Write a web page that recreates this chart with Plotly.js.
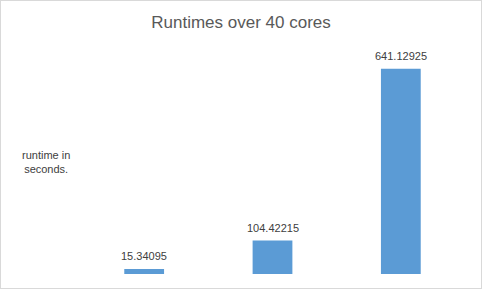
<!DOCTYPE html>
<html>
<head>
<meta charset="utf-8">
<script src="https://cdn.plot.ly/plotly-3.0.1.min.js"></script>
<style>
  html, body { margin: 0; padding: 0; background: #fff; }
  #wrap { width: 482px; height: 289px; box-sizing: border-box; border: 1px solid #d9d9d9; }
  #chart { width: 480px; height: 287px; }
</style>
</head>
<body>
<div id="wrap"><div id="chart"></div></div>
<script>
const categories = ["Run 1", "Run 2", "Run 3"];
const runtimes = [15.34095, 104.42215, 641.12925];
const chartTitle = "Runtimes over 40 cores";
const yLabel = "runtime in<br>seconds.";

const FONT = "Liberation Sans, Arial, sans-serif";

const trace = {
  type: "bar",
  x: categories,
  y: runtimes,
  width: 0.31,
  marker: { color: "#5b9bd5" },
  cliponaxis: false,
  hoverinfo: "none"
};

const valueLabels = categories.map((c, i) => ({
  text: String(runtimes[i]),
  x: c, y: runtimes[i],
  xref: "x", yref: "y",
  xanchor: "center", yanchor: "bottom",
  yshift: 5,
  showarrow: false,
  font: { family: FONT, size: 11, color: "#404040" }
}));

const layout = {
  width: 480,
  height: 287,
  margin: { l: 79, r: 16, t: 49, b: 14 },
  paper_bgcolor: "#ffffff",
  plot_bgcolor: "#ffffff",
  showlegend: false,
  title: {
    text: chartTitle,
    font: { family: FONT, size: 17, color: "#595959" },
    x: 0.5, xanchor: "center",
    y: 1 - 21 / 287, yref: "container", yanchor: "middle"
  },
  xaxis: {
    type: "category",
    categoryarray: categories, categoryorder: "array",
    range: [-0.5, categories.length - 0.5],
    showticklabels: false, showgrid: false, zeroline: false, showline: false, ticks: ""
  },
  yaxis: {
    range: [0, 700],
    showticklabels: false, showgrid: false, zeroline: false, showline: false, ticks: ""
  },
  annotations: valueLabels.concat([{
    text: yLabel,
    xref: "paper", yref: "paper",
    x: (45 - 79) / 385, y: 0.5,
    xanchor: "center", yanchor: "middle",
    showarrow: false, align: "center",
    font: { family: FONT, size: 11, color: "#404040" }
  }])
};

Plotly.newPlot("chart", [trace], layout, { staticPlot: true, displayModeBar: false });
</script>
</body>
</html>
